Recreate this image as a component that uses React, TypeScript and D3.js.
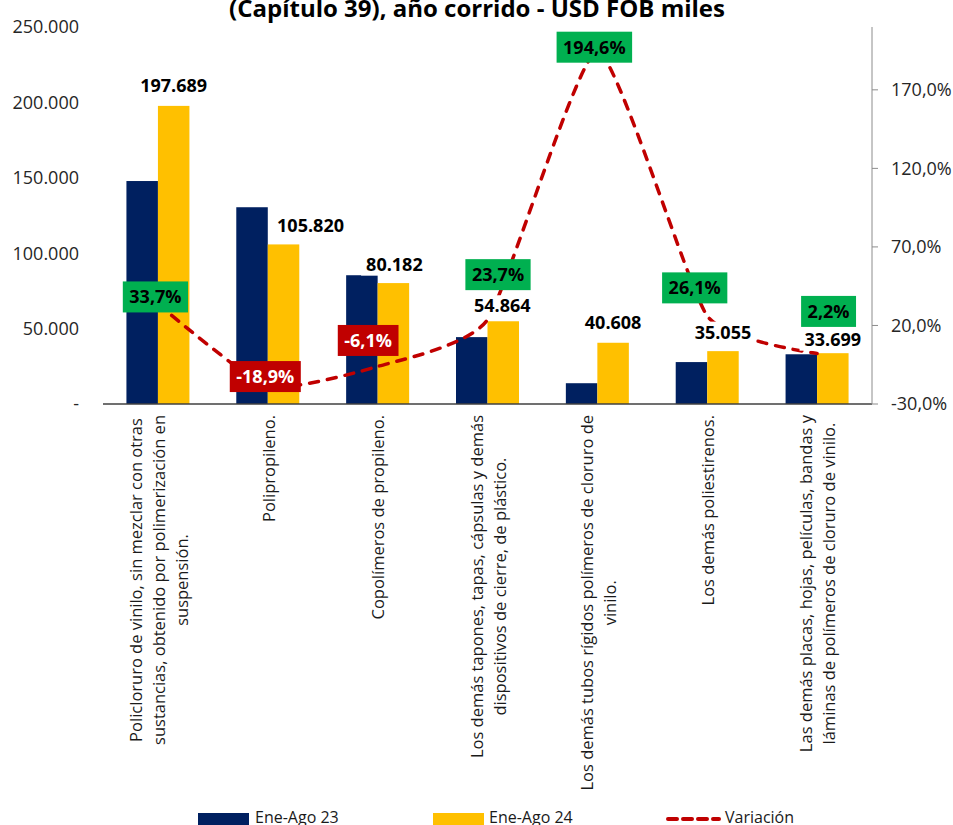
import React, { useEffect, useRef } from 'react';
import * as d3 from 'd3';

// ---------- DATA ----------
const categories: string[][] = [
  ['Policloruro de vinilo,  sin mezclar con otras', 'sustancias, obtenido por polimerización en', 'suspensión.'],
  ['Polipropileno.'],
  ['Copolímeros de propileno.'],
  ['Los demás tapones, tapas, cápsulas y demás', 'dispositivos de cierre, de plástico.'],
  ['Los demás tubos rígidos polímeros de cloruro de', 'vinilo.'],
  ['Los demás poliestirenos.'],
  ['Las demás placas, hojas, películas, bandas y', 'láminas de polímeros de cloruro de vinilo.'],
];
const eneAgo23 = [147860, 130481, 85391, 44353, 13784, 27799, 32973];
const eneAgo24 = [197689, 105820, 80182, 54864, 40608, 35055, 33699];
const variacion = [33.7, -18.9, -6.1, 23.7, 194.6, 26.1, 2.2];
const leftTicks = [0, 50000, 100000, 150000, 200000, 250000];
const rightTicks = [-30, 20, 70, 120, 170];
const seriesNames = ['Ene-Ago 23', 'Ene-Ago 24', 'Variación'];
const title = '(Capítulo 39), año corrido - USD FOB miles';

// ---------- LAYOUT (label nudges, px) ----------
const valueLabelDx = [0, 27, 1, -1, 0, 0, 0];
const valueLabelGap = [13.5, 12, 12.5, 9, 14, 12.5, 7.5];
const varLabelDx = [-2.5, -2.5, -9.5, 10.5, -3, -12.5, 11.5];
const varLabelDy = [-7, -10, -26, -45, -4, -28, -42];

const W = 953;
const H = 825;
const FONT = '"Open Sans", "Noto Sans", sans-serif';
const NAVY = '#002060';
const YELLOW = '#FFC000';
const GREEN = '#00B050';
const RED = '#C00000';

const locale = d3.formatLocale({
  decimal: ',',
  thousands: '.',
  grouping: [3],
  currency: ['$', ''],
  minus: '-',
} as any);
const fmtInt = locale.format(',.0f');
const fmtPct = locale.format('.1f');

export default function App() {
  const ref = useRef<SVGSVGElement | null>(null);

  useEffect(() => {
    const svg = d3.select(ref.current);
    svg.selectAll('*').remove();

    const left = 103;
    const right = 872;
    const top = 27;
    const bottom = 404;

    const x = d3.scaleBand<number>().domain(d3.range(categories.length)).range([left, right]).padding(0);
    const barW = 31.5;
    const y = d3.scaleLinear().domain([0, 250000]).range([bottom, top]);
    const yR = d3.scaleLinear().domain([-30, 210]).range([bottom, top]);
    const cx = (i: number) => (x(i) as number) + x.bandwidth() / 2;

    // Title (partially clipped at top, as in the reference)
    svg.append('text')
      .attr('x', 477).attr('y', 16.5)
      .attr('text-anchor', 'middle')
      .attr('font-family', FONT).attr('font-weight', 700).attr('font-size', 24)
      .attr('fill', '#000')
      .text(title);

    // Left axis tick labels
    svg.append('g').selectAll('text').data(leftTicks).join('text')
      .attr('x', 79).attr('y', (d) => y(d))
      .attr('dy', '0.35em')
      .attr('text-anchor', 'end')
      .attr('font-family', FONT).attr('font-size', 18)
      .attr('fill', '#262626')
      .text((d) => (d === 0 ? '-' : fmtInt(d)));

    // Bars
    const bars = svg.append('g');
    bars.selectAll('rect.a').data(eneAgo23).join('rect')
      .attr('class', 'a')
      .attr('x', (_, i) => cx(i) - barW)
      .attr('y', (d) => y(d))
      .attr('width', barW)
      .attr('height', (d) => y(0) - y(d))
      .attr('fill', NAVY);
    bars.selectAll('rect.b').data(eneAgo24).join('rect')
      .attr('class', 'b')
      .attr('x', (_, i) => cx(i))
      .attr('y', (d) => y(d))
      .attr('width', barW)
      .attr('height', (d) => y(0) - y(d))
      .attr('fill', YELLOW);

    // Baseline
    svg.append('line')
      .attr('x1', left).attr('x2', right)
      .attr('y1', bottom).attr('y2', bottom)
      .attr('stroke', '#404040').attr('stroke-width', 1.5);

    // Right axis
    const ra = svg.append('g');
    ra.append('line')
      .attr('x1', right).attr('x2', right)
      .attr('y1', top).attr('y2', bottom)
      .attr('stroke', '#8c8c8c').attr('stroke-width', 1);
    ra.selectAll('line.t').data(rightTicks).join('line')
      .attr('class', 't')
      .attr('x1', right).attr('x2', right + 6)
      .attr('y1', (d) => yR(d)).attr('y2', (d) => yR(d))
      .attr('stroke', '#8c8c8c').attr('stroke-width', 1);
    ra.selectAll('text').data(rightTicks).join('text')
      .attr('x', 891).attr('y', (d) => yR(d))
      .attr('dy', '0.35em')
      .attr('font-family', FONT).attr('font-size', 18)
      .attr('fill', '#262626')
      .text((d) => fmtPct(d) + '%');

    // Variation line (smoothed)
    const line = d3.line<number>()
      .x((_, i) => cx(i))
      .y((d) => yR(d))
      .curve(d3.curveCardinal.tension(0.5));
    svg.append('path')
      .datum(variacion)
      .attr('d', line)
      .attr('fill', 'none')
      .attr('stroke', RED)
      .attr('stroke-width', 3.5)
      .attr('stroke-dasharray', '9,9')
      .attr('stroke-linecap', 'round');

    // Value labels (Ene-Ago 24) with white background
    const vl = svg.append('g');
    eneAgo24.forEach((v, i) => {
      const g = vl.append('g');
      const tx = cx(i) + barW / 2 + valueLabelDx[i];
      const ty = y(v) - valueLabelGap[i];
      const rect = g.append('rect').attr('fill', '#fff');
      const t = g.append('text')
        .attr('x', tx).attr('y', ty)
        .attr('text-anchor', 'middle')
        .attr('font-family', FONT).attr('font-weight', 700).attr('font-size', 18)
        .attr('fill', '#000')
        .text(fmtInt(v));
      const w = (t.node() as SVGTextElement).getComputedTextLength();
      rect.attr('x', tx - w / 2 - 5).attr('y', ty - 17).attr('width', w + 10).attr('height', 22);
    });

    // Variation labels in colored boxes
    const vr = svg.append('g');
    variacion.forEach((v, i) => {
      const g = vr.append('g');
      const bx = cx(i) + varLabelDx[i];
      const by = yR(v) + varLabelDy[i];
      const rect = g.append('rect').attr('fill', v >= 0 ? GREEN : RED);
      const t = g.append('text')
        .attr('x', bx).attr('y', by)
        .attr('dy', '0.36em')
        .attr('text-anchor', 'middle')
        .attr('font-family', FONT).attr('font-weight', 700).attr('font-size', 18)
        .attr('fill', v >= 0 ? '#000' : '#fff')
        .text(fmtPct(v) + '%');
      const w = (t.node() as SVGTextElement).getComputedTextLength();
      rect.attr('x', bx - w / 2 - 6.5).attr('y', by - 15.5).attr('width', w + 13).attr('height', 31);
    });

    // Category labels (rotated)
    const cl = svg.append('g');
    const lineH = 23;
    categories.forEach((lines, i) => {
      const g = cl.append('g').attr('transform', `translate(${cx(i) + 1},415) rotate(-90)`);
      const texts = lines.map((s, j) =>
        g.append('text')
          .attr('y', (j - (lines.length - 1) / 2) * lineH)
          .attr('dy', '0.35em')
          .attr('text-anchor', 'middle')
          .attr('font-family', FONT).attr('font-size', 16.5)
          .attr('fill', '#1a1a1a')
          .text(s)
      );
      const maxW = d3.max(texts, (t) => (t.node() as SVGTextElement).getComputedTextLength()) || 0;
      texts.forEach((t) => t.attr('x', -maxW / 2));
    });

    // Legend
    const lg = svg.append('g').attr('font-family', FONT).attr('font-size', 16).attr('fill', '#1a1a1a');
    lg.append('rect').attr('x', 198).attr('y', 813).attr('width', 51).attr('height', 12).attr('fill', NAVY);
    lg.append('text').attr('x', 255).attr('y', 823).text(seriesNames[0]);
    lg.append('rect').attr('x', 433).attr('y', 813).attr('width', 51).attr('height', 12).attr('fill', YELLOW);
    lg.append('text').attr('x', 489).attr('y', 823).text(seriesNames[1]);
    lg.append('line')
      .attr('x1', 668).attr('x2', 719).attr('y1', 819).attr('y2', 819)
      .attr('stroke', RED).attr('stroke-width', 4)
      .attr('stroke-dasharray', '9,6').attr('stroke-linecap', 'round');
    lg.append('text').attr('x', 725).attr('y', 823).text(seriesNames[2]);
  }, []);

  return (
    <svg
      ref={ref}
      width={W}
      height={H}
      style={{ position: 'absolute', left: 0, top: 0, background: '#fff' }}
    />
  );
}
